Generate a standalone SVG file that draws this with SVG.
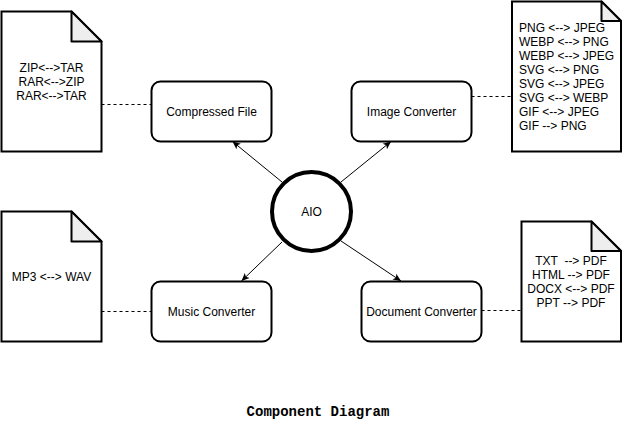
<svg xmlns="http://www.w3.org/2000/svg" width="622" height="442" viewBox="0 0 622 442">
<defs>
<marker id="arr" markerWidth="10" markerHeight="8" refX="8" refY="4" orient="auto" markerUnits="userSpaceOnUse">
<path d="M0,0.5 L8,4 L0,7.5 L2,4 Z" fill="#000"/>
</marker>
</defs>
<style>
.doc{fill:#fff;stroke:#000;stroke-width:2}
.fold{fill:#eee;stroke:#000;stroke-width:2;stroke-linejoin:round}
.box{fill:#fff;stroke:#000;stroke-width:2}
.t{font-family:"Liberation Sans",Arial,sans-serif;font-size:12px;fill:#000}
.c{text-anchor:middle}
.edge{stroke:#000;stroke-width:1;fill:none}
.dash{stroke:#000;stroke-width:1;fill:none;stroke-dasharray:3 3}
.title{font-family:"Liberation Mono","DejaVu Sans Mono",monospace;font-weight:bold;font-size:14px;text-anchor:middle}
</style>
<rect width="622" height="442" fill="#fff"/>
<g id="connectors">
<line class="dash" x1="101.5" y1="104.5" x2="151.5" y2="104.5"/>
<line class="dash" x1="471.5" y1="96.5" x2="512" y2="96.5"/>
<line class="dash" x1="101.5" y1="311.5" x2="151.5" y2="311.5"/>
<line class="dash" x1="481.5" y1="310.5" x2="521.5" y2="310.5"/>
<line class="edge" x1="282" y1="182" x2="232.5" y2="141.5" marker-end="url(#arr)"/>
<line class="edge" x1="341" y1="182" x2="391" y2="141.5" marker-end="url(#arr)"/>
<line class="edge" x1="282" y1="242" x2="241.5" y2="281" marker-end="url(#arr)"/>
<line class="edge" x1="341" y1="241" x2="401" y2="281" marker-end="url(#arr)"/>
</g>
<g id="doc-compressed">
<path class="doc" d="M1.5,11.5 H71.5 L101.5,41.5 V151.5 H1.5 Z"/>
<path class="fold" d="M71.5,11.5 V41.5 H101.5 Z"/>
<text class="t c" x="51.5" y="72">ZIP&lt;--&gt;TAR</text>
<text class="t c" x="51.5" y="86">RAR&lt;--&gt;ZIP</text>
<text class="t c" x="51.5" y="100">RAR&lt;--&gt;TAR</text>
</g>
<g id="doc-image">
<path class="doc" d="M512,1.5 H601.5 L621,21 V151.5 H512 Z"/>
<path class="fold" d="M601.5,1.5 V21 H621 Z"/>
<text class="t" x="519" y="32">PNG &lt;--&gt; JPEG</text>
<text class="t" x="519" y="46">WEBP &lt;--&gt; PNG</text>
<text class="t" x="519" y="60">WEBP &lt;--&gt; JPEG</text>
<text class="t" x="519" y="74">SVG &lt;--&gt; PNG</text>
<text class="t" x="519" y="88">SVG &lt;--&gt; JPEG</text>
<text class="t" x="519" y="102">SVG &lt;--&gt; WEBP</text>
<text class="t" x="519" y="116">GIF &lt;--&gt; JPEG</text>
<text class="t" x="519" y="130">GIF --&gt; PNG</text>
</g>
<g id="doc-music">
<path class="doc" d="M1.5,211.5 H71.5 L101.5,241.5 V341.5 H1.5 Z"/>
<path class="fold" d="M71.5,211.5 V241.5 H101.5 Z"/>
<text class="t c" x="51.5" y="281">MP3 &lt;--&gt; WAV</text>
</g>
<g id="doc-document">
<path class="doc" d="M521.5,221.5 H591.5 L621,251 V341.5 H521.5 Z"/>
<path class="fold" d="M591.5,221.5 V251 H621 Z"/>
<text class="t c" x="571" y="265" xml:space="preserve" style="white-space:pre">TXT  --&gt; PDF</text>
<text class="t c" x="571" y="279">HTML --&gt; PDF</text>
<text class="t c" x="571" y="293">DOCX &lt;--&gt; PDF</text>
<text class="t c" x="571" y="307">PPT --&gt; PDF</text>
</g>
<g id="compressed-file">
<rect class="box" x="151.5" y="81.5" width="120" height="60" rx="9"/>
<text class="t c" x="211.5" y="115.5">Compressed File</text>
</g>
<g id="image-converter">
<rect class="box" x="351.5" y="81.5" width="120" height="60" rx="9"/>
<text class="t c" x="411.5" y="115.5">Image Converter</text>
</g>
<g id="music-converter">
<rect class="box" x="151.5" y="281.5" width="120" height="60" rx="9"/>
<text class="t c" x="211.5" y="315.5">Music Converter</text>
</g>
<g id="document-converter">
<rect class="box" x="361.5" y="281.5" width="120" height="60" rx="9"/>
<text class="t c" x="421.5" y="315.5">Document Converter</text>
</g>
<g id="aio">
<circle cx="311.5" cy="211.5" r="39.5" fill="#fff" stroke="#000" stroke-width="4"/>
<text class="t c" x="311.5" y="215.5">AIO</text>
</g>
<text class="title" x="318" y="416">Component Diagram</text>
</svg>
